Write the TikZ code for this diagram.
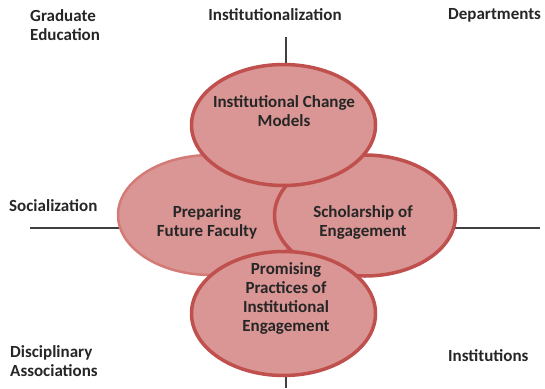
\documentclass[tikz,border=0pt]{standalone}
\usepackage{fontspec}
\setmainfont{Carlito}
\usetikzlibrary{shapes.geometric}
\definecolor{pinkfill}{RGB}{217,150,148}
\definecolor{redline}{RGB}{192,80,77}
\definecolor{redlight}{RGB}{212,122,119}
\begin{document}
\begin{tikzpicture}[x=1pt,y=-1pt,
circ/.style={ellipse,draw=redline,line width=3.5pt,fill=pinkfill,inner sep=0pt},
txt/.style={font=\fontsize{17}{19}\selectfont\bfseries,text=black!85,align=center,inner sep=0pt},
lbl/.style={txt,align=left,anchor=west}]
\useasboundingbox (0,0) rectangle (545,388);
\coordinate (N) at (286,37);
\coordinate (S) at (286,388);
\coordinate (W) at (30,228);
\coordinate (E) at (540,228);
\draw[black!75,line width=1.5pt] (N) -- (S) (W) -- (E);
\node[circ,draw=redlight,line width=2.5pt,minimum width=186pt,minimum height=120pt] (pff) at (211,215) {};
\node[circ,minimum width=181pt,minimum height=121pt] (soe) at (365,215.5) {};
\node[circ,minimum width=184pt,minimum height=121pt] (icm) at (283.5,125) {};
\node[circ,minimum width=184pt,minimum height=124pt] (ppie) at (283.5,313.5) {};
\node[txt] (icmt) at (284,111.5) {Institutional Change\\Models};
\node[txt] (pfft) at (207,222) {Preparing\\Future Faculty};
\node[txt] (soet) at (363,222) {Scholarship of\\Engagement};
\node[txt] (ppiet) at (286,298) {Promising\\Practices of\\Institutional\\Engagement};
\node[lbl] (grad) at (30,25.5) {Graduate\\Education};
\node[txt] (inst) at (275,15) {Institutionalization};
\node[lbl] (dept) at (448,15) {Departments};
\node[lbl] (soc) at (9,206) {Socialization};
\node[lbl] (disc) at (10,361.5) {Disciplinary\\Associations};
\node[lbl] (insts) at (448,356) {Institutions};
\end{tikzpicture}
\end{document}
